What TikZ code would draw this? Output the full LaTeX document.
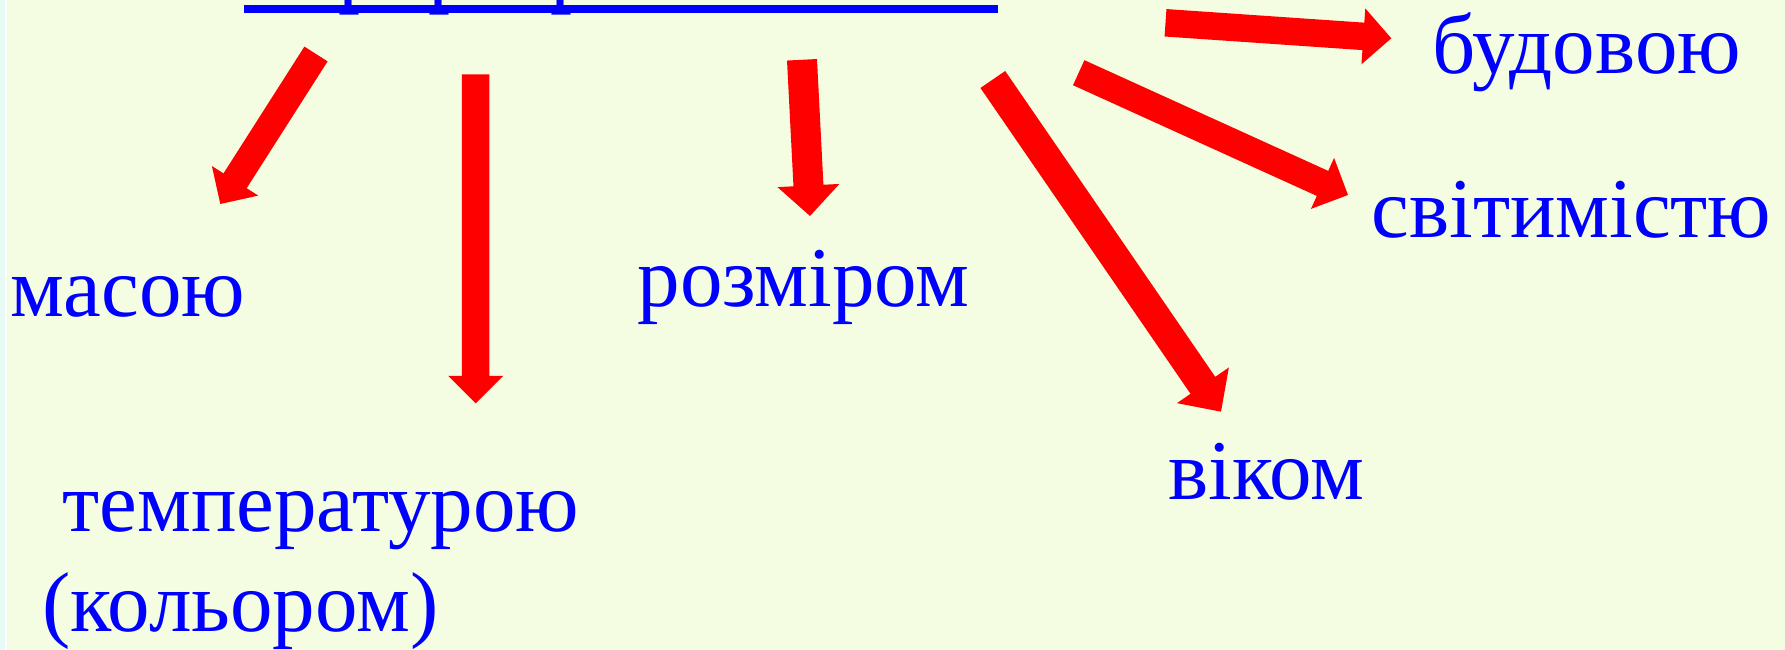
\documentclass[tikz,border=0pt]{standalone}
\usepackage{fontspec}
\setmainfont{Liberation Serif}[Script=Cyrillic, Language=Ukrainian]
\usetikzlibrary{calc}

\definecolor{slidebg}{RGB}{244,253,226}
\definecolor{edgecyan}{RGB}{230,250,246}
\definecolor{arrowred}{RGB}{255,0,0}
\definecolor{labelblue}{RGB}{0,0,255}

% Block arrow: #1 tail, #2 tip, #3 shaft half-width, #4 head half-width, #5 head length
\newcommand\blockarrow[5]{%
  \path ($(#2)!#5!(#1)$) coordinate (hb);
  \fill[arrowred]
    ($(#1)!#3!90:(#2)$) -- ($(hb)!#3!90:(#2)$) -- ($(hb)!#4!90:(#2)$) -- (#2)
    -- ($(hb)!#4!-90:(#2)$) -- ($(hb)!#3!-90:(#2)$) -- ($(#1)!#3!-90:(#2)$) -- cycle;}

\begin{document}
\begin{tikzpicture}[x=0.4pt,y=-0.4pt,
  word/.style={text=labelblue, inner sep=0pt, anchor=base west,
    font=\fontsize{34pt}{40pt}\selectfont},
  heading/.style={word, font=\fontsize{35pt}{42pt}\selectfont}]
\useasboundingbox (0,0) rectangle (1785,650);
\clip (0,0) rectangle (1785,650);

% slide background with its left edge strip
\fill[slidebg] (0,0) rectangle (1785,650);
\fill[edgecyan] (0,0) rectangle (5,650);
\fill[white] (5,0) rectangle (6.5,650);

% heading, mostly above the top edge, with its underline
\node[heading] (title) at (250,-3) {Зорі розрізняються};
\fill[labelblue] (244,5) rectangle (998,13);

% labels
\node[word] (mass)   at (10,317)   {масою};
\node[word] (temp)   at (62,532)   {температурою};
\node[word] (colour) at (42,632)   {(кольором)};
\node[word] (size)   at (637,307)  {розміром};
\node[word] (age)    at (1168,500) {віком};
\node[word] (lum)    at (1371,238) {світимістю};
\node[word] (build)  at (1432,74)  {будовою};

% arrow ends
\coordinate (t1) at (316,54);     \coordinate (h1) at (220.3,204);
\coordinate (t2) at (475.7,74.3); \coordinate (h2) at (475.7,403.3);
\coordinate (t3) at (802,59.8);   \coordinate (h3) at (810,216);
\coordinate (t4) at (992.8,79.5); \coordinate (h4) at (1221,411.7);
\coordinate (t5) at (1078.7,72.7);\coordinate (h5) at (1348,195);
\coordinate (t6) at (1165.5,22.8);\coordinate (h6) at (1391.3,38.3);

\blockarrow{t1}{h1}{5.5pt}{11pt}{11pt}
\blockarrow{t2}{h2}{5.5pt}{11pt}{11pt}
\blockarrow{t3}{h3}{6pt}{12.4pt}{12.2pt}
\blockarrow{t4}{h4}{6pt}{12.6pt}{12.8pt}
\blockarrow{t5}{h5}{5.5pt}{11.2pt}{11.2pt}
\blockarrow{t6}{h6}{5.5pt}{11.2pt}{11.2pt}
\end{tikzpicture}
\end{document}
